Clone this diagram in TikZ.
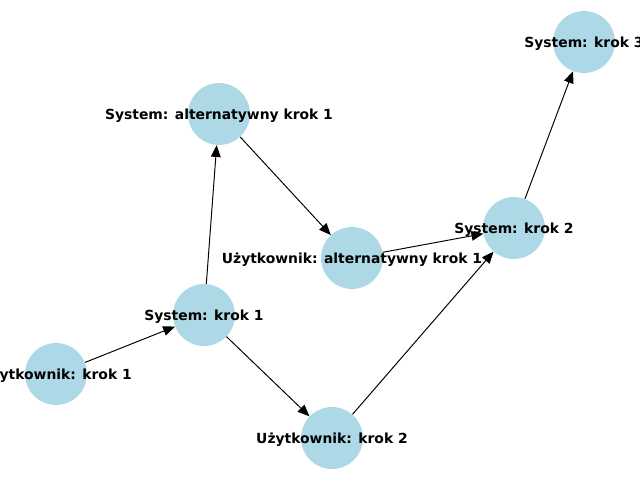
\documentclass[tikz,border=0pt]{standalone}
\usepackage{fontspec}
\setmainfont{DejaVu Sans}
\usetikzlibrary{arrows.meta}
\begin{document}
\begin{tikzpicture}[x=0.72pt,y=-0.72pt,
  nd/.style={circle,fill={rgb,255:red,173;green,216;blue,230},minimum size=44.6pt,inner sep=0pt},
  lb/.style={font=\bfseries\fontsize{10pt}{12pt}\selectfont,yshift=-1pt},
  ed/.style={-{Triangle[length=8.5pt,width=7pt]},line width=0.7pt}]
\useasboundingbox (0,0) rectangle (640,480);
\node[nd] (uk1) at (56,374) {};
\node[nd] (s1) at (204,315) {};
\node[nd] (salt) at (219,114) {};
\node[nd] (ualt) at (352,258) {};
\node[nd] (s2) at (514,228) {};
\node[nd] (s3) at (584,42) {};
\node[nd] (uk2) at (332,438) {};
\draw[ed] (uk1) -- (s1);
\draw[ed] (s1) -- (salt);
\draw[ed] (salt) -- (ualt);
\draw[ed] (ualt) -- (s2);
\draw[ed] (s1) -- (uk2);
\draw[ed] (uk2) -- (s2);
\draw[ed] (s2) -- (s3);
\node[lb] at (uk1) {Użytkownik: krok 1};
\node[lb] at (s1) {System: krok 1};
\node[lb] at (salt) {System: alternatywny krok 1};
\node[lb] at (ualt) {Użytkownik: alternatywny krok 1};
\node[lb] at (s2) {System: krok 2};
\node[lb] at (s3) {System: krok 3};
\node[lb] at (uk2) {Użytkownik: krok 2};
\end{tikzpicture}
\end{document}
